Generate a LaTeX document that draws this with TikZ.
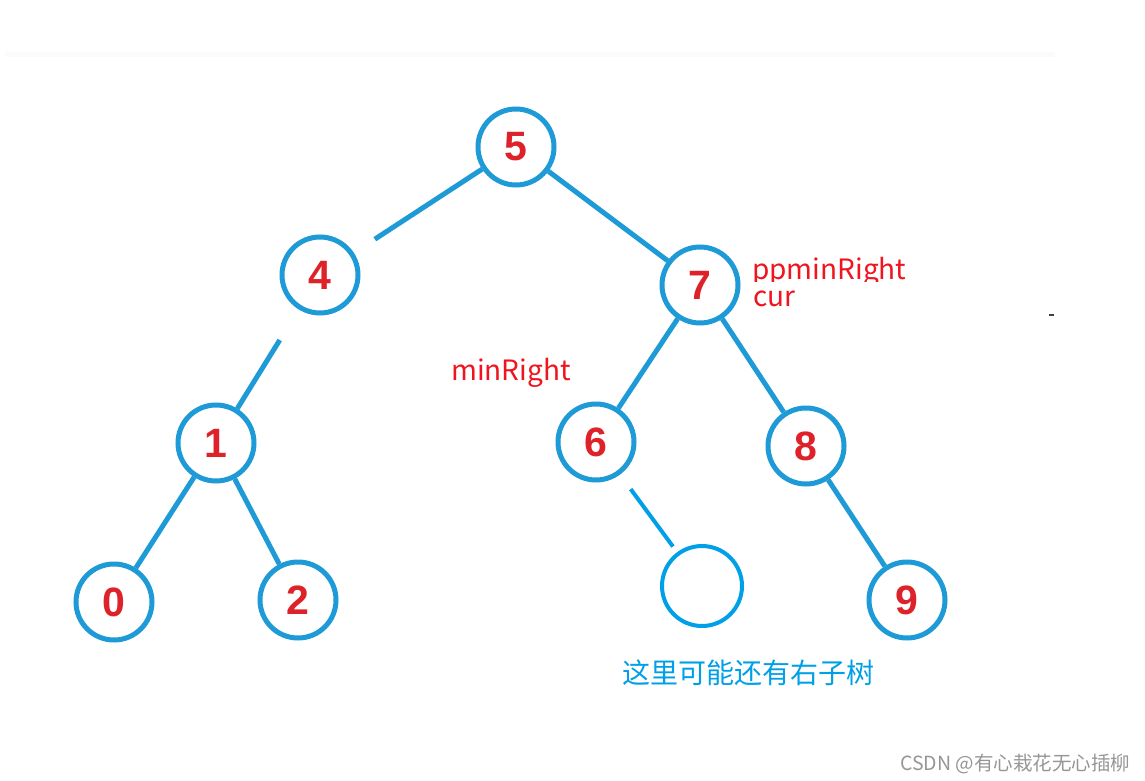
\documentclass[tikz,border=0pt]{standalone}
\usepackage{fontspec}
\setmainfont{Liberation Sans}
\newfontfamily\cjk{Noto Sans CJK SC}
\definecolor{treeblue}{RGB}{30,155,215}
\definecolor{emptyblue}{RGB}{0,160,232}
\definecolor{numred}{RGB}{222,34,42}
\definecolor{labred}{RGB}{240,20,30}
\definecolor{wmgray}{RGB}{150,150,150}
\begin{document}
\begin{tikzpicture}[x=1pt,y=-1pt,
  tnode/.style={circle,draw=treeblue,line width=5pt,minimum size=76pt,inner sep=0pt,
    font=\fontsize{41}{41}\selectfont\bfseries,text=numred},
  enode/.style={circle,draw=emptyblue,line width=4pt,minimum size=80pt,inner sep=0pt},
  edge/.style={draw=treeblue,line width=5pt},
  redlab/.style={anchor=base west,inner sep=0pt,text=labred,font=\cjk\fontsize{28}{28}\selectfont}
]
\useasboundingbox (0,0) rectangle (1145,781);
\fill[white] (0,0) rectangle (1145,781);
\fill[black!1.5] (5,52) rectangle (1055,57);
\fill[black!75] (1049,314) rectangle (1054,316);

\node[tnode] (n5) at (516,147) {5};
\node[tnode] (n4) at (320,275) {4};
\node[tnode] (n7) at (700,285) {7};
\node[tnode] (n1) at (216,443) {1};
\node[tnode] (n6) at (596,442) {6};
\node[tnode] (n8) at (806,446) {8};
\node[tnode] (n0) at (114,602) {0};
\node[tnode] (n2) at (298,600) {2};
\node[enode] (ne) at (702,586) {};
\node[tnode] (n9) at (907,600) {9};

\draw[edge,shorten >=25pt] (n5) -- (n4);
\draw[edge] (n5) -- (n7);
\draw[edge,shorten <=36pt] (n4) -- (n1);
\draw[edge] (n7) -- (n6);
\draw[edge] (n7) -- (n8);
\draw[edge] (n1) -- (n0);
\draw[edge] (n1) -- (n2);
\draw[edge] (n8) -- (n9);
\draw[edge,draw=emptyblue,line width=4pt,shorten <=18pt,shorten >=7pt] (n6) -- (ne);

\begin{scope}
\clip (740,240) rectangle (930,281);
\node[redlab,text depth=0pt] (lpp) at (752,279) {ppminRight};
\end{scope}
\node[redlab,text height=16pt] (lcur) at (753,306) {cur};
\node[redlab] (lmin) at (451,380) {minRight};
\node[anchor=base west,inner sep=0pt,text=emptyblue,font=\cjk\fontsize{28}{28}\selectfont] (lcn) at (622,683) {这里可能还有右子树};
\node[anchor=base west,inner sep=0pt,text=wmgray,font=\cjk\fontsize{19.5}{19.5}\selectfont] (lwm) at (900,770) {CSDN @有心栽花无心插柳};
\end{tikzpicture}
\end{document}
